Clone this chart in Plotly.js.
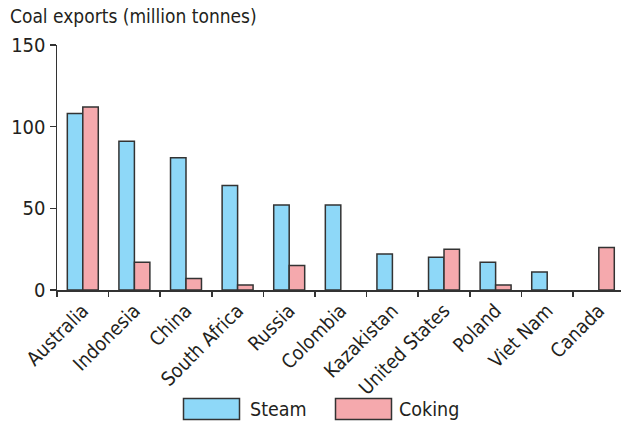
<!DOCTYPE html>
<html>
<head>
<meta charset="utf-8">
<script src="https://cdn.plot.ly/plotly-3.0.1.min.js"></script>
<style>
  html, body { margin: 0; padding: 0; background: #fff; }
  #chart { width: 621px; height: 424px; }
</style>
</head>
<body>
<div id="chart"></div>
<script>
const countries = ["Australia", "Indonesia", "China", "South Africa", "Russia", "Colombia", "Kazakistan", "United States", "Poland", "Viet Nam", "Canada"];
const steam  = [108, 91, 81, 64, 52, 52, 22, 20, 17, 11, null];
const coking = [112, 17, 7, 3, 15, null, null, 25, 3, null, 26];
const seriesNames = ["Steam", "Coking"];
const yTicks = [0, 50, 100, 150];
const titleText = "Coal exports (million tonnes)";

const FONT = "'DejaVu Sans Condensed', 'Liberation Sans Narrow', sans-serif";
const INK = "#231f20";
const STEAM_COLOR = "#8ed8f8";
const COKING_COLOR = "#f5a9ad";
const EDGE = "#333333";

const W = 621, H = 424;
const L = 57, R = 0, T = 45, B = 134;
const pw = W - L - R, ph = H - T - B;
const px = v => (v - L) / pw;
const py = v => (H - B - v) / ph;

const traces = [
  { type: "bar", name: seriesNames[0], x: countries, y: steam,
    marker: { color: STEAM_COLOR, line: { color: EDGE, width: 1.5 } }, showlegend: false, hoverinfo: "x+y" },
  { type: "bar", name: seriesNames[1], x: countries, y: coking,
    marker: { color: COKING_COLOR, line: { color: EDGE, width: 1.5 } }, showlegend: false, hoverinfo: "x+y" }
];

const legendShapes = [
  { type: "rect", xref: "paper", yref: "paper", x0: px(183.5), x1: px(239.5), y0: py(398.5), y1: py(419.5),
    fillcolor: STEAM_COLOR, line: { color: EDGE, width: 1.5 } },
  { type: "rect", xref: "paper", yref: "paper", x0: px(335.5), x1: px(391.5), y0: py(398.5), y1: py(419.5),
    fillcolor: COKING_COLOR, line: { color: EDGE, width: 1.5 } }
];

const annotations = [
  { text: seriesNames[0], xref: "paper", yref: "paper", x: px(248), y: py(409), xanchor: "left", yanchor: "middle",
    showarrow: false, font: { family: FONT, size: 19.5, color: INK } },
  { text: seriesNames[1], xref: "paper", yref: "paper", x: px(397), y: py(409), xanchor: "left", yanchor: "middle",
    showarrow: false, font: { family: FONT, size: 19.5, color: INK } }
];

const layout = {
  width: W, height: H,
  margin: { l: L, r: R, t: T, b: B, pad: 0 },
  paper_bgcolor: "#ffffff", plot_bgcolor: "#ffffff",
  font: { family: FONT, color: INK },
  title: { text: titleText, x: 10 / W, xref: "container", xanchor: "left", y: 1 - 10 / H, yref: "container", yanchor: "top",
    font: { family: FONT, size: 19, color: INK } },
  barmode: "group", bargap: 0.4, bargroupgap: 0,
  xaxis: {
    type: "category", range: [-0.5, 10.43], showgrid: false, zeroline: false,
    showline: true, linecolor: EDGE, linewidth: 1.5,
    ticks: "outside", tickson: "boundaries", ticklen: 5, tickwidth: 1.5, tickcolor: EDGE,
    tickangle: -45, tickfont: { family: FONT, size: 19.5, color: INK }
  },
  yaxis: {
    range: [0, 150], tickvals: yTicks, ticktext: yTicks.map(String),
    showgrid: false, zeroline: false, showline: true, linecolor: EDGE, linewidth: 1.5,
    ticks: "outside", ticklen: 6, tickwidth: 1.5, tickcolor: EDGE,
    tickfont: { family: FONT, size: 20, color: INK }
  },
  shapes: legendShapes,
  annotations: annotations
};

Plotly.newPlot("chart", traces, layout, { displayModeBar: false, staticPlot: true });
</script>
</body>
</html>
